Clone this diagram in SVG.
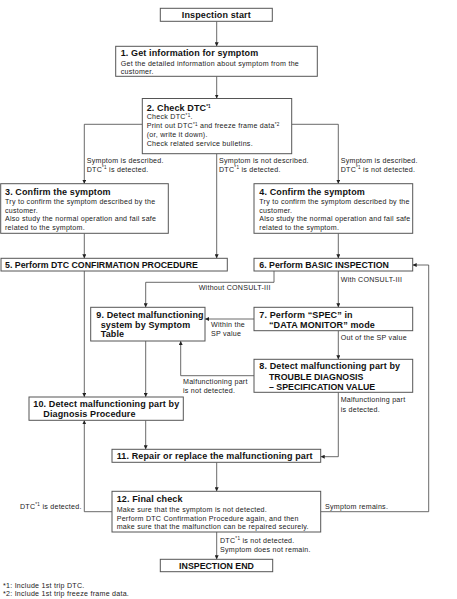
<svg xmlns="http://www.w3.org/2000/svg" width="457" height="599" viewBox="0 0 457 599">
<defs>
<style>
.box{fill:#fff;stroke:#555;stroke-width:1}
.t{font-family:"Liberation Sans",Arial,sans-serif;font-weight:bold;font-size:9px;letter-spacing:0.12px;fill:#111}
.u{letter-spacing:0;font-size:8.8px}
.s{font-family:"Liberation Sans",Arial,sans-serif;font-size:7.1px;letter-spacing:0.25px;fill:#222}
.sup{font-size:4.6px}
.c{fill:none;stroke:#444;stroke-width:0.8}
</style>
<marker id="ah" viewBox="0 0 6 6" refX="6" refY="3" markerWidth="4" markerHeight="4" orient="auto" markerUnits="userSpaceOnUse">
<path d="M0,0 L6,3 L0,6 Z" fill="#222"/>
</marker>
</defs>
<rect width="457" height="599" fill="#fff"/>

<g id="connectors">
<path class="c" d="M216.7 21.3 V46.3" marker-end="url(#ah)"/>
<path class="c" d="M216.7 76.3 V98.5" marker-end="url(#ah)"/>
<path class="c" d="M142.3 124.3 H84.3 V183.7" marker-end="url(#ah)"/>
<path class="c" d="M291.7 124.3 H338.3 V183.7" marker-end="url(#ah)"/>
<path class="c" d="M216.7 153.7 V258.3" marker-end="url(#ah)"/>
<path class="c" d="M84.3 233.3 V258.3" marker-end="url(#ah)"/>
<path class="c" d="M338.3 233.3 V258.3" marker-end="url(#ah)"/>
<path class="c" d="M84.3 271 V397" marker-end="url(#ah)"/>
<path class="c" d="M274 271 V282.3 H145.7 V307.3" marker-end="url(#ah)"/>
<path class="c" d="M338.3 271 V307.3" marker-end="url(#ah)"/>
<path class="c" d="M254 319 H205" marker-end="url(#ah)"/>
<path class="c" d="M338.3 330.7 V359.3" marker-end="url(#ah)"/>
<path class="c" d="M254 375.7 H180.7 V341" marker-end="url(#ah)"/>
<path class="c" d="M145.7 341 V397" marker-end="url(#ah)"/>
<path class="c" d="M338.3 392.3 V456.7 H320.7" marker-end="url(#ah)"/>
<path class="c" d="M145.7 420.3 V449.3" marker-end="url(#ah)"/>
<path class="c" d="M216.7 462.3 V491.3" marker-end="url(#ah)"/>
<path class="c" d="M112 511.7 H84.3 V420.3" marker-end="url(#ah)"/>
<path class="c" d="M320.7 511.7 H428.7 V265 H412.7" marker-end="url(#ah)"/>
<path class="c" d="M216.7 532 V559.3" marker-end="url(#ah)"/>
</g>

<g id="labels">
<text class="s" x="86.7" y="162.5">Symptom is described.</text>
<text class="s" x="86.7" y="171.5">DTC<tspan class="sup" dy="-2.6">*1</tspan><tspan dy="2.6"> is detected.</tspan></text>
<text class="s" x="219" y="162.5">Symptom is not described.</text>
<text class="s" x="219" y="171.5">DTC<tspan class="sup" dy="-2.6">*1</tspan><tspan dy="2.6"> is detected.</tspan></text>
<text class="s" x="340.7" y="162.5">Symptom is described.</text>
<text class="s" x="340.7" y="171.5">DTC<tspan class="sup" dy="-2.6">*1</tspan><tspan dy="2.6"> is not detected.</tspan></text>
<text class="s" x="270.7" y="290" text-anchor="end">Without CONSULT-III</text>
<text class="s" x="340.7" y="281.7">With CONSULT-III</text>
<text class="s" x="211" y="327">Within the</text>
<text class="s" x="211" y="336">SP value</text>
<text class="s" x="340.7" y="340">Out of the SP value</text>
<text class="s" x="183" y="384.4">Malfunctioning part</text>
<text class="s" x="183" y="393">is not detected.</text>
<text class="s" x="340.7" y="402">Malfunctioning part</text>
<text class="s" x="340.7" y="411.5">is detected.</text>
<text class="s" x="81.7" y="508.7" text-anchor="end">DTC<tspan class="sup" dy="-2.6">*1</tspan><tspan dy="2.6"> is detected.</tspan></text>
<text class="s" x="325" y="508.7">Symptom remains.</text>
<text class="s" x="220" y="542.7">DTC<tspan class="sup" dy="-2.6">*1</tspan><tspan dy="2.6"> is not detected.</tspan></text>
<text class="s" x="220" y="551.7">Symptom does not remain.</text>
</g>

<g id="start">
<rect class="box" x="160.3" y="8.3" width="112" height="13"/>
<text class="t" x="216.3" y="18" text-anchor="middle">Inspection start</text>
</g>

<g id="n1">
<rect class="box" x="115.7" y="46.3" width="201.6" height="30"/>
<text class="t" x="120.7" y="56.2">1. Get information for symptom</text>
<text class="s" x="120.7" y="65.7">Get the detailed information about symptom from the</text>
<text class="s" x="120.7" y="74.4">customer.</text>
</g>

<g id="n2">
<rect class="box" x="142.3" y="98.5" width="149.4" height="55.2"/>
<text class="t" x="146.7" y="111">2. Check DTC<tspan class="sup" dy="-3">*1</tspan></text>
<text class="s" x="146.7" y="119.4">Check DTC<tspan class="sup" dy="-2.6">*1</tspan><tspan dy="2.6">.</tspan></text>
<text class="s" x="146.7" y="128.4">Print out DTC<tspan class="sup" dy="-2.6">*1</tspan><tspan dy="2.6"> and freeze frame data</tspan><tspan class="sup" dy="-2.6">*2</tspan></text>
<text class="s" x="146.7" y="137">(or, write it down).</text>
<text class="s" x="146.7" y="146">Check related service bulletins.</text>
</g>

<g id="n3">
<rect class="box" x="0.7" y="183.7" width="167.6" height="49.6"/>
<text class="t" x="5" y="195">3. Confirm the symptom</text>
<text class="s" x="5" y="203.7">Try to confirm the symptom described by the</text>
<text class="s" x="5" y="212.7">customer.</text>
<text class="s" x="5" y="221.4">Also study the normal operation and fail safe</text>
<text class="s" x="5" y="230.4">related to the symptom.</text>
</g>

<g id="n4">
<rect class="box" x="254" y="183.7" width="158.7" height="49.6"/>
<text class="t" x="259.3" y="195">4. Confirm the symptom</text>
<text class="s" x="259.3" y="203.7">Try to confirm the symptom described by the</text>
<text class="s" x="259.3" y="212.7">customer.</text>
<text class="s" x="259.3" y="221.4">Also study the normal operation and fail safe</text>
<text class="s" x="259.3" y="230.4">related to the symptom.</text>
</g>

<g id="n5">
<rect class="box" x="1" y="258.3" width="226.3" height="12.7"/>
<text class="t u" x="5" y="268.2">5. Perform DTC CONFIRMATION PROCEDURE</text>
</g>

<g id="n6">
<rect class="box" x="254" y="258.3" width="158.7" height="12.7"/>
<text class="t u" x="259.3" y="268.2">6. Perform BASIC INSPECTION</text>
</g>

<g id="n7">
<rect class="box" x="254" y="307.3" width="158.7" height="23.4"/>
<text class="t" x="259.3" y="317.5">7. Perform “SPEC” in</text>
<text class="t" x="269" y="327.9">“DATA MONITOR” mode</text>
</g>

<g id="n8">
<rect class="box" x="254" y="359.3" width="158.7" height="33"/>
<text class="t" x="259.3" y="369.2">8. Detect malfunctioning part by</text>
<text class="t u" x="269" y="379.5">TROUBLE DIAGNOSIS</text>
<text class="t u" x="269" y="390">– SPECIFICATION VALUE</text>
</g>

<g id="n9">
<rect class="box" x="90.7" y="307.3" width="114.3" height="33.7"/>
<text class="t" x="96.3" y="317.5">9. Detect malfunctioning</text>
<text class="t" x="100.7" y="327.5">system by Symptom</text>
<text class="t" x="100.7" y="337.2">Table</text>
</g>

<g id="n10">
<rect class="box" x="29" y="397" width="154.3" height="23.3"/>
<text class="t" x="33.3" y="406.5">10. Detect malfunctioning part by</text>
<text class="t" x="43.3" y="417.2">Diagnosis Procedure</text>
</g>

<g id="n11">
<rect class="box" x="112" y="449.3" width="208.7" height="13"/>
<text class="t" x="116.7" y="459.2">11. Repair or replace the malfunctioning part</text>
</g>

<g id="n12">
<rect class="box" x="112" y="491.3" width="208.7" height="40.7"/>
<text class="t" x="116.7" y="502.2">12. Final check</text>
<text class="s" x="116.7" y="511.5">Make sure that the symptom is not detected.</text>
<text class="s" x="116.7" y="520.5">Perform DTC Confirmation Procedure again, and then</text>
<text class="s" x="116.7" y="529.3">make sure that the malfunction can be repaired securely.</text>
</g>

<g id="end">
<rect class="box" x="160.3" y="559.3" width="112.4" height="12.4"/>
<text class="t u" x="216.5" y="568.8" text-anchor="middle">INSPECTION END</text>
</g>

<g id="notes">
<text class="s" x="3" y="587.7">*1: Include 1st trip DTC.</text>
<text class="s" x="3" y="596">*2: Include 1st trip freeze frame data.</text>
</g>
</svg>
